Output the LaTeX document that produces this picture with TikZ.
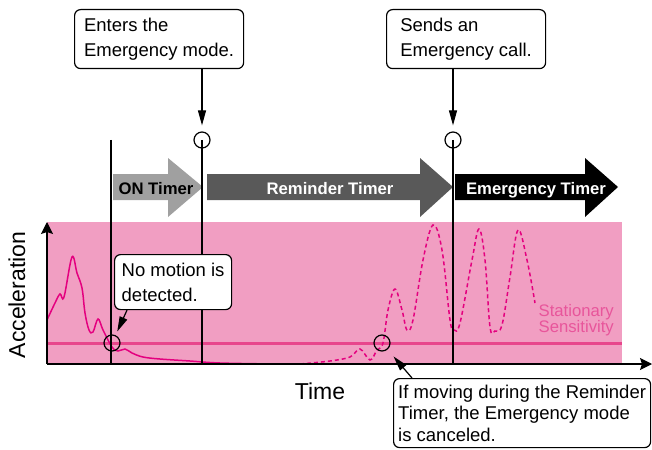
\documentclass[tikz,border=0pt]{standalone}
\usepackage{fontspec}
\setmainfont{Liberation Sans}
\usetikzlibrary{positioning}
\usetikzlibrary{arrows.meta}
\definecolor{bandpink}{RGB}{241,158,194}
\definecolor{linepink}{RGB}{232,70,140}
\definecolor{curvepink}{RGB}{228,0,127}
\definecolor{textpink}{RGB}{232,85,155}
\definecolor{ongray}{RGB}{160,160,160}
\definecolor{remgray}{RGB}{89,89,89}
\tikzset{
    notebox/.style = {draw=black, line width=1.2pt, rounded corners=6pt, fill=white, align=left, anchor=north west, inner sep=0pt, font=\fontsize{18.5}{25}\selectfont},
    ring/.style = {circle, draw=black, line width=1.2pt, minimum size=16pt, inner sep=0pt},
    timertext/.style = {font=\fontsize{16.7}{20}\selectfont\bfseries, text=white, inner sep=0pt, anchor=base},
    bigtext/.style = {font=\fontsize{23}{28}\selectfont, inner sep=0pt},
    edgen/.style = {-, line width=1.3pt, black},
    edgea/.style = {line width=1.2pt, black, -{Triangle[length=15pt,width=8pt]}},
    edgeax/.style = {line width=1.3pt, black, -{Stealth[length=12pt,width=12pt,inset=2pt]}},
    edgep/.style = {line width=1.5pt, curvepink},
    edgepd/.style = {line width=1.5pt, curvepink, dash pattern=on 4pt off 3pt}, % moving again
}
\begin{document}
\begin{tikzpicture}[x=1pt, y=-1pt]
  \useasboundingbox (0,0) rectangle (652,449);
  % sensitivity band and threshold
  \fill[bandpink] (47,222) rectangle (622,364);
  \coordinate (o) at (47,364);
  \coordinate (ytop) at (47,222);
  \coordinate (xend) at (652,364);
  \coordinate (tl) at (47,343);
  \coordinate (tr) at (622,343);
  \draw[line width=3pt, linepink] (tl) -- (tr);
  \draw[edgep] plot[smooth, tension=0.6] coordinates {(47,320) (55,303) (60,294) (64,297) (72,257) (77,273) (82,288) (85,313) (89,330) (93,332) (98,319) (103,330) (112,347) (118,351) (125,349) (132,353) (143,357) (160,359) (190,361) (220,363) (275,364)};
  \draw[edgepd] plot[smooth, tension=0.6] coordinates {(300,364) (330,361) (350,357) (360,349) (370,360) (377,350) (383,343) (388,310) (395,289) (402,310) (407,330) (413,320) (423,260) (433,225) (442,250) (450,320) (454,330) (460,323) (472,260) (479,229) (485,260) (490,327) (495,331) (502,325) (510,277) (518,230) (527,260) (535,303)};
  \node[font=\fontsize{16.7}{16}\selectfont, text=textpink, align=right, anchor=east, inner sep=0pt] (stat) at (614,320) {Stationary\\Sensitivity};
  \draw[edgeax] (o) -- (ytop);
  \draw[edgeax] (o) -- (xend);
  % timers
  \fill[ongray] (113,174) -- (168,174) -- (168,158) -- (203,187) -- (168,217) -- (168,200) -- (113,200) -- cycle;
  \fill[remgray] (207,174) -- (420,174) -- (420,158) -- (453,187) -- (420,217) -- (420,200) -- (207,200) -- cycle;
  \fill[black] (455,174) -- (585,174) -- (585,158) -- (618,187) -- (585,217) -- (585,200) -- (455,200) -- cycle;
  \node[timertext, text=black] (ont) at (156,194) {ON Timer};
  \node[timertext] (remt) at (330,194) {Reminder Timer};
  \node[timertext] (emt) at (536,194) {Emergency Timer};
  % marks
  \node[ring] (c1) at (202,140) {};
  \node[ring] (c2) at (453,140) {};
  \node[ring] (c3) at (112,343) {};
  \node[ring] (c4) at (382,343) {};
  \coordinate (v0t) at (111,140);
  \coordinate (v0b) at (111,364);
  \coordinate (v1b) at (202,364);
  \coordinate (v2b) at (453,364);
  \draw[edgen] (v0t) -- (v0b);
  \draw[edgen] (c1.center) -- (v1b);
  \draw[edgen] (c2.center) -- (v2b);
  % notes
  \node[notebox, minimum width=169pt, minimum height=59pt] (enter) at (74,9) {Enters the\\Emergency mode.};
  \node[notebox, minimum width=159pt, minimum height=59pt] (send) at (386,9) {Sends an\\Emergency call.};
  \node[notebox, minimum width=117pt, minimum height=55pt] (still) at (114,254) {No motion is\\detected.};
  \node[notebox, minimum width=257pt, minimum height=69pt, font=\fontsize{18.5}{21.7}\selectfont] (cancel) at (393,378) {If moving during the Reminder\\Timer, the Emergency mode\\is canceled.};
  \draw[edgea, shorten >=6pt] (c1 |- enter.south) -- (c1.north);
  \draw[edgea, shorten >=6pt] (c2 |- send.south) -- (c2.north);
  \draw[edgea, shorten >=4pt] ([xshift=13pt]still.south west) -- (c3);
  \draw[edgea, shorten >=9pt] ([xshift=19pt]cancel.north west) -- (c4);
  % axis labels
  \node[bigtext, rotate=90] (acc) at (17,295) {Acceleration};
  \node[bigtext] (time) at (320,391) {Time};
\end{tikzpicture}
\end{document}
